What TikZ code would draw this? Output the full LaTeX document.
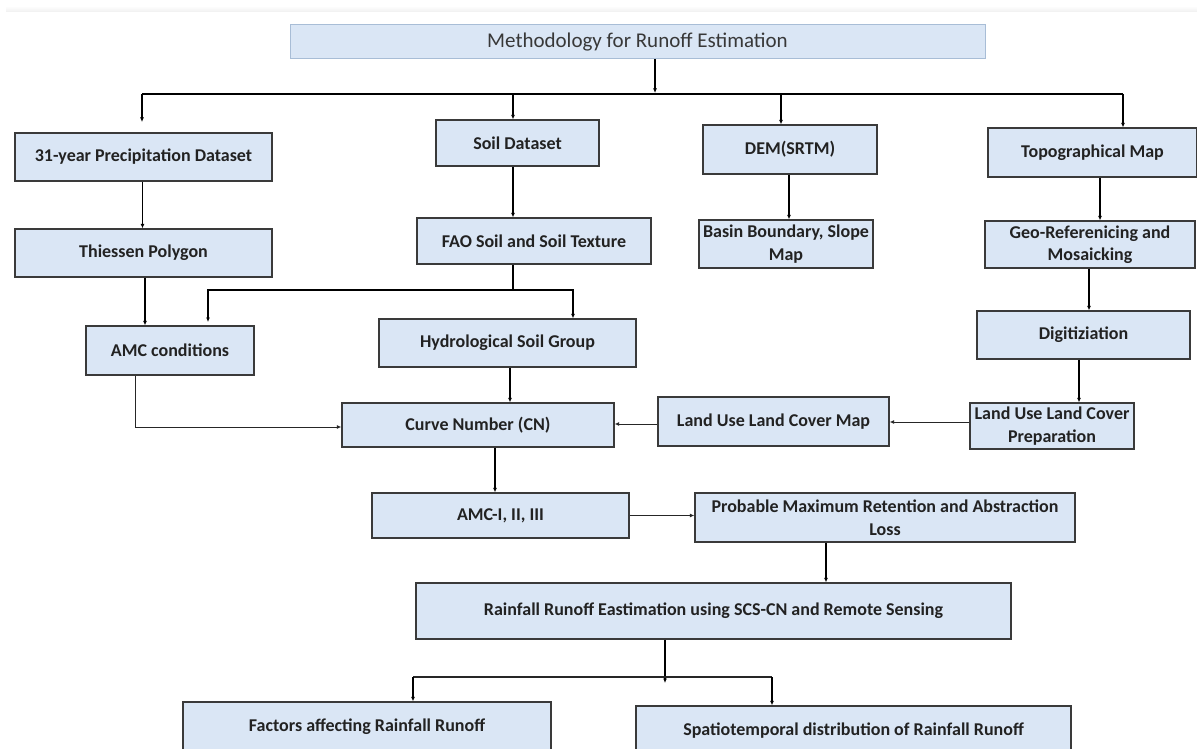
\documentclass[tikz,border=0pt]{standalone}
\usepackage{fontspec}
\setmainfont{Carlito}
\usetikzlibrary{arrows.meta,calc}
\definecolor{boxfill}{HTML}{DAE6F5}
\definecolor{boxline}{HTML}{3A3A3A}
\definecolor{titleline}{HTML}{A8BDD6}
\definecolor{txt}{HTML}{222222}
\tikzset{
  box/.style={draw=boxline, fill=boxfill, line width=1.3pt, align=center, inner sep=0pt,
    text=txt, font=\bfseries\fontsize{18}{22.5}\selectfont},
  titlebox/.style={draw=titleline, fill=boxfill, line width=1pt, inner sep=0pt,
    text=txt!90, font=\fontsize{21}{25}\selectfont},
  ln/.style={line width=1.8pt, black},
  arr/.style={ln, -{Latex[length=4.5pt,width=4pt]}},
  thinarr/.style={line width=1pt, black!85, -{Latex[length=4.5pt,width=4pt]}},
}
\begin{document}
\begin{tikzpicture}[x=1pt,y=-1pt]
\useasboundingbox (0,0) rectangle (1197,749);
\clip (0,0) rectangle (1197,749);
\fill[white] (0,0) rectangle (1197,749);
\shade[top color=white, bottom color=gray!12] (6,6) rectangle (1197,12);

% nodes
\node[titlebox, minimum width=695pt, minimum height=34pt] (title) at (637.5,42) {Methodology for Runoff Estimation};
\node[box, minimum width=257pt, minimum height=48pt] (precip) at (143.5,157) {31-year Precipitation Dataset};
\node[box, minimum width=163pt, minimum height=46pt] (soil) at (517.5,143) {Soil Dataset};
\node[box, minimum width=174pt, minimum height=49pt] (dem) at (790,149.5) {DEM(SRTM)};
\node[box, minimum width=209pt, minimum height=49pt] (topo) at (1092.5,152.5) {Topographical Map};
\node[box, minimum width=257pt, minimum height=48pt] (thiessen) at (143.5,253) {Thiessen Polygon};
\node[box, minimum width=234pt, minimum height=46pt] (fao) at (534,241) {FAO Soil and Soil Texture};
\node[box, minimum width=174pt, minimum height=48pt] (basin) at (786,244) {Basin Boundary, Slope\\Map};
\node[box, minimum width=210pt, minimum height=47pt] (geo) at (1090,244.5) {Geo-Referenicing and\\Mosaicking};
\node[box, minimum width=168pt, minimum height=49pt] (amc) at (170,350.5) {AMC conditions};
\node[box, minimum width=257pt, minimum height=48pt] (hsg) at (507.5,343) {Hydrological Soil Group};
\node[box, minimum width=213pt, minimum height=48pt] (digit) at (1083.5,335) {Digitiziation};
\node[box, minimum width=272pt, minimum height=44pt] (cn) at (478,425) {Curve Number (CN)};
\node[box, minimum width=231pt, minimum height=49pt] (lulcm) at (773.5,421.5) {Land Use Land Cover Map};
\node[box, minimum width=164pt, minimum height=46pt] (lulcp) at (1052,426) {Land Use Land Cover\\Preparation};
\node[box, minimum width=257pt, minimum height=45pt] (amci) at (500.5,515.5) {AMC-I, II, III};
\node[box, minimum width=380pt, minimum height=49pt] (pm) at (885,517.5) {Probable Maximum Retention and Abstraction\\Loss};
\node[box, minimum width=595pt, minimum height=56pt] (rr) at (713.5,611) {Rainfall Runoff Eastimation using SCS-CN and Remote Sensing};
\node[box, minimum width=368pt, minimum height=50pt] (factors) at (367,727) {Factors affecting Rainfall Runoff};
\node[box, minimum width=435pt, minimum height=50pt] (spatio) at (853.5,731) {Spatiotemporal distribution of Rainfall Runoff};

% free ends
\coordinate (busT) at (655,93);
\coordinate (busL) at (142,94);
\coordinate (busR) at (1123,94);
\coordinate (pTip) at (142,122);
\coordinate (J) at (513,290);
\coordinate (JL) at (208,290);
\coordinate (JR) at (573,290);
\coordinate (amcTip) at (208,322);
\coordinate (sTip) at (665,683);
\coordinate (sL) at (413,677);
\coordinate (sR) at (772,677);

% connectors
\draw[arr] ([xshift=17.5pt]title.south) -- (busT);
\draw[ln] (busL) -- (busR);
\draw[arr] (busL) -- (pTip);
\draw[arr] ([xshift=-4.5pt]soil.north |- busL) -- ([xshift=-4.5pt]soil.north);
\draw[arr] ([xshift=-9pt]dem.north |- busL) -- ([xshift=-9pt]dem.north);
\draw[arr] (busR) -- (busR |- topo.north);

\draw[arr] ([xshift=-4.5pt]soil.south) -- ([xshift=-4.5pt]soil.south |- fao.north);
\draw[arr] ([xshift=-1pt]precip.south) -- ([xshift=-1pt]precip.south |- thiessen.north);
\draw[arr] ([xshift=-1pt]dem.south) -- ([xshift=-1pt]dem.south |- basin.north);
\draw[arr] ([xshift=7.5pt]topo.south) -- ([xshift=7.5pt]topo.south |- geo.north);

\draw[arr] ([xshift=1.5pt]thiessen.south) -- ([xshift=1.5pt]thiessen.south |- amc.north);
\draw[ln] ([xshift=-21pt]fao.south) -- (J);
\draw[arr] (J) -- (JL) -- (amcTip);
\draw[arr] (J) -- (JR) -- (JR |- hsg.north);
\draw[arr] ([xshift=2.5pt]hsg.south) -- ([xshift=2.5pt]hsg.south |- cn.north);
\draw[thinarr] ([xshift=-35pt]amc.south) |- ([yshift=-2pt]cn.west);

\draw[arr] ([xshift=-1pt]geo.south) -- ([xshift=-1pt]geo.south |- digit.north);
\draw[arr] ([xshift=-4.5pt]digit.south) -- ([xshift=-4.5pt]digit.south |- lulcp.north);
\draw[thinarr] ([yshift=4pt]lulcp.west) -- ([yshift=4pt]lulcp.west -| lulcm.east);
\draw[thinarr] ([yshift=-2.5pt]lulcm.west) -- ([yshift=-2.5pt]lulcm.west -| cn.east);

\draw[arr] ([xshift=17pt]cn.south) -- ([xshift=17pt]cn.south |- amci.north);
\draw[thinarr] (amci.east) -- (amci.east -| pm.west);
\draw[arr] ([xshift=-59pt]pm.south) -- ([xshift=-59pt]pm.south |- rr.north);

\draw[arr] ([xshift=-48.5pt]rr.south) -- (sTip);
\draw[line width=1.2pt, black!85] (sL) -- (sR);
\draw[arr] (sL) -- (sL |- factors.north);
\draw[arr] (sR) -- (sR |- spatio.north);
\end{tikzpicture}
\end{document}
